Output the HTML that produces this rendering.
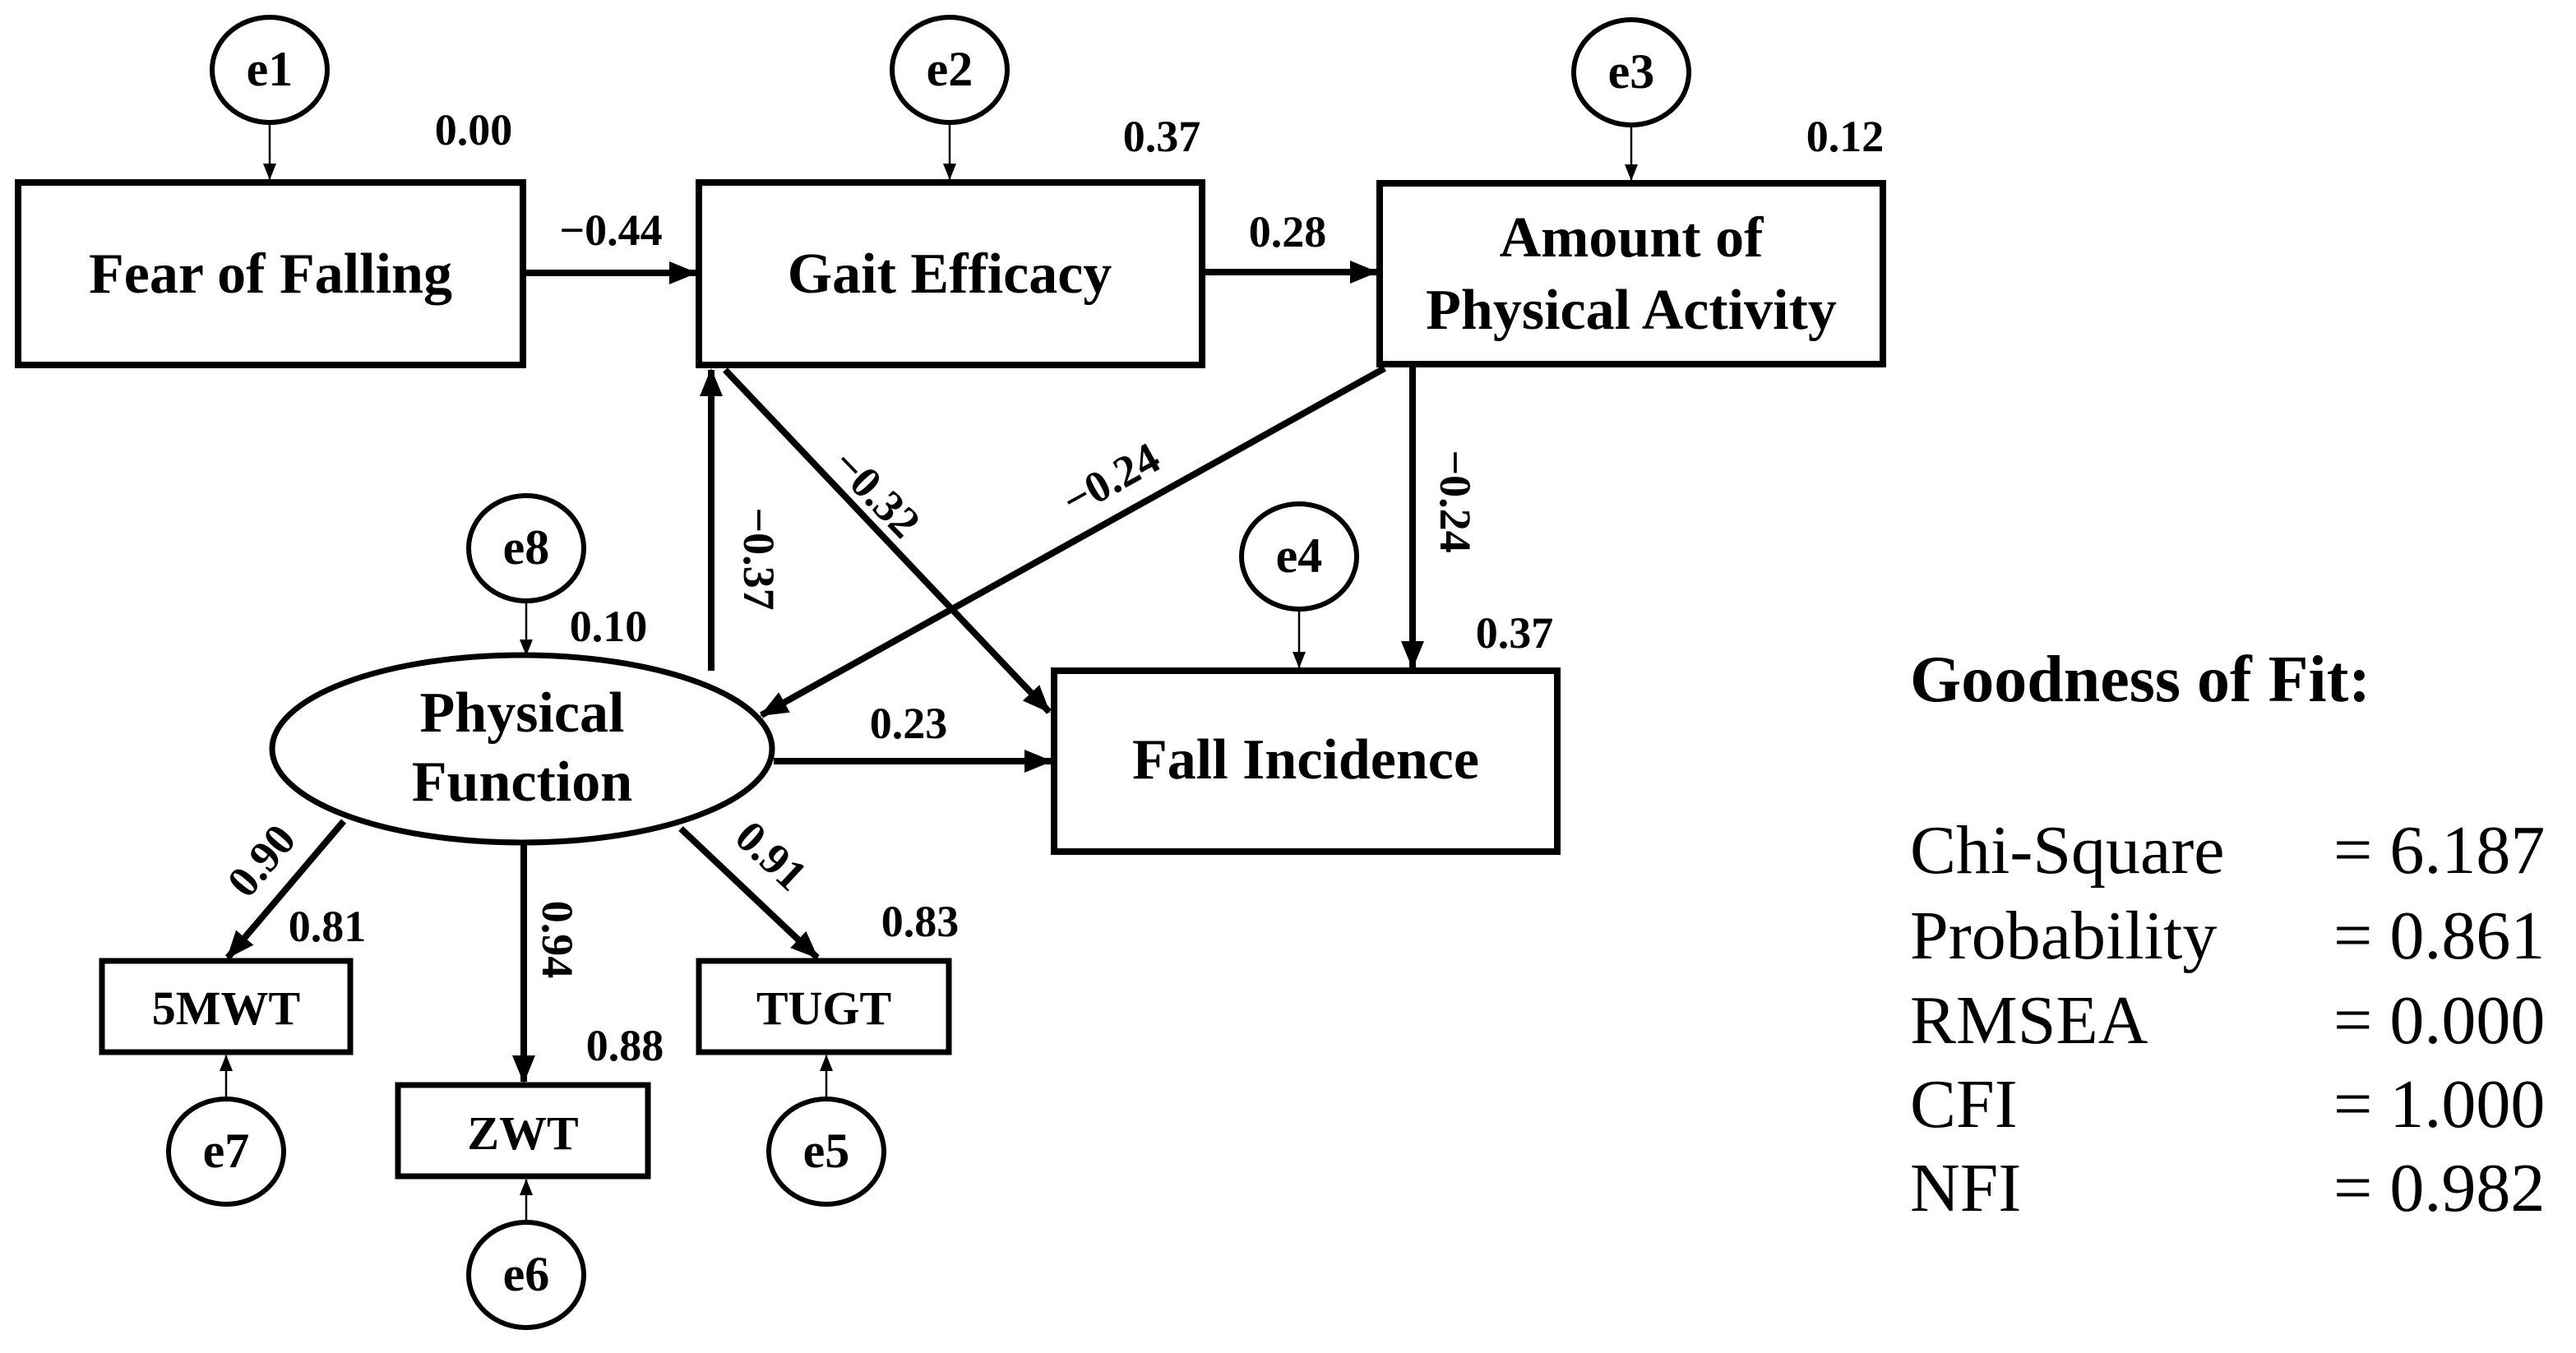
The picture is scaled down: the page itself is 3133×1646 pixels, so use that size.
<!DOCTYPE html>
<html><head><meta charset="utf-8"><style>
html,body{margin:0;padding:0;background:#fff;}
svg{display:block;}
text{font-family:"Liberation Serif",serif;fill:#000;}
.n{font-size:54px;font-weight:bold;text-anchor:middle;}
.b{font-size:70px;font-weight:bold;text-anchor:middle;}
.e{font-size:60px;font-weight:bold;text-anchor:middle;}
.g{font-size:84px;}
</style></head><body>
<svg width="3133" height="1646" viewBox="0 0 3133 1646" xmlns="http://www.w3.org/2000/svg">
<defs>
<marker id="big" markerUnits="userSpaceOnUse" markerWidth="34" markerHeight="28" refX="32" refY="14" orient="auto"><path d="M0,0 L34,14 L0,28 Z" fill="#000"/></marker>
<marker id="sm" markerUnits="userSpaceOnUse" markerWidth="20" markerHeight="16" refX="19" refY="8" orient="auto"><path d="M0,0 L20,8 L0,16 Z" fill="#000"/></marker>
</defs>
<g fill="none" stroke="#000">
<!-- boxes -->
<rect x="22" y="222" width="614" height="222" stroke-width="8"/>
<rect x="850" y="222" width="612" height="222" stroke-width="8"/>
<rect x="1678" y="223" width="612" height="220" stroke-width="8"/>
<rect x="1282" y="816" width="612" height="220" stroke-width="8"/>
<rect x="124" y="1169" width="302" height="111" stroke-width="7"/>
<rect x="484" y="1320" width="304" height="111" stroke-width="7"/>
<rect x="850" y="1169" width="304" height="111" stroke-width="7"/>
<ellipse cx="635" cy="911" rx="304" ry="114" stroke-width="7"/>
<!-- error circles -->
<ellipse cx="328" cy="85" rx="70" ry="64" stroke-width="6"/>
<ellipse cx="1155" cy="85" rx="70" ry="64" stroke-width="6"/>
<ellipse cx="1984" cy="88" rx="70" ry="64" stroke-width="6"/>
<ellipse cx="640" cy="667" rx="70" ry="64" stroke-width="6"/>
<ellipse cx="1580" cy="677" rx="70" ry="64" stroke-width="6"/>
<ellipse cx="275" cy="1401" rx="70" ry="64" stroke-width="6"/>
<ellipse cx="1005" cy="1401" rx="70" ry="64" stroke-width="6"/>
<ellipse cx="640" cy="1551" rx="70" ry="64" stroke-width="6"/>
<!-- thin arrows -->
<g stroke-width="2.5" marker-end="url(#sm)">
<line x1="328" y1="149" x2="328" y2="218"/>
<line x1="1155" y1="149" x2="1155" y2="218"/>
<line x1="1984" y1="152" x2="1984" y2="219"/>
<line x1="640" y1="731" x2="640" y2="797"/>
<line x1="1580" y1="741" x2="1580" y2="812"/>
<line x1="275" y1="1337" x2="275" y2="1284"/>
<line x1="1005" y1="1337" x2="1005" y2="1284"/>
<line x1="640" y1="1487" x2="640" y2="1435"/>
</g>
<!-- thick arrows -->
<g stroke-width="8" marker-end="url(#big)">
<line x1="636" y1="332" x2="846" y2="332"/>
<line x1="1462" y1="331" x2="1674" y2="331"/>
<line x1="865" y1="816" x2="865" y2="450"/>
<line x1="882" y1="450" x2="1276" y2="866"/>
<line x1="1684" y1="448" x2="926" y2="870"/>
<line x1="1718" y1="443" x2="1718" y2="812"/>
<line x1="941" y1="926" x2="1278" y2="926"/>
<line x1="418" y1="999" x2="277" y2="1165"/>
<line x1="637" y1="1026" x2="637" y2="1316"/>
<line x1="828" y1="1008" x2="994" y2="1165"/>
</g>
</g>
<!-- node labels -->
<text class="b" x="329" y="356">Fear of Falling</text>
<text class="b" x="1155" y="356">Gait Efficacy</text>
<text class="b" x="1984" y="312">Amount of</text>
<text class="b" x="1984" y="400">Physical Activity</text>
<text class="b" x="1588" y="947">Fall Incidence</text>
<text class="b" x="635" y="890">Physical</text>
<text class="b" x="635" y="974">Function</text>
<text class="b" x="275" y="1246" style="font-size:58px">5MWT</text>
<text class="b" x="636" y="1398" style="font-size:58px">ZWT</text>
<text class="b" x="1002" y="1246" style="font-size:58px">TUGT</text>
<text class="e" x="328" y="104">e1</text>
<text class="e" x="1155" y="104">e2</text>
<text class="e" x="1984" y="107">e3</text>
<text class="e" x="640" y="686">e8</text>
<text class="e" x="1580" y="696">e4</text>
<text class="e" x="275" y="1420">e7</text>
<text class="e" x="1005" y="1420">e5</text>
<text class="e" x="640" y="1570">e6</text>
<!-- numbers -->
<text class="n" x="576" y="176">0.00</text>
<text class="n" x="1413" y="184">0.37</text>
<text class="n" x="2244" y="184">0.12</text>
<text class="n" x="743" y="298">−0.44</text>
<text class="n" x="1566" y="300">0.28</text>
<text class="n" x="740" y="780">0.10</text>
<text class="n" x="1842" y="788">0.37</text>
<text class="n" x="1105" y="898">0.23</text>
<text class="n" x="398" y="1145">0.81</text>
<text class="n" x="760" y="1290">0.88</text>
<text class="n" x="1119" y="1139">0.83</text>
<text class="n" transform="translate(923,680) rotate(90)" y="18">−0.37</text>
<text class="n" transform="translate(1770,610) rotate(90)" y="18">−0.24</text>
<text class="n" transform="translate(678,1143) rotate(90)" y="18">0.94</text>
<text class="n" transform="translate(1066,600) rotate(46)" y="18">−0.32</text>
<text class="n" transform="translate(1351,583) rotate(-29)" y="18">−0.24</text>
<text class="n" transform="translate(318,1047) rotate(-50)" y="18">0.90</text>
<text class="n" transform="translate(938,1041) rotate(43)" y="18">0.91</text>
<!-- goodness of fit -->
<text x="2323" y="853" style="font-size:80px;font-weight:bold">Goodness of Fit:</text>
<text class="g" x="2323" y="1062">Chi-Square</text>
<text class="g" x="2323" y="1166">Probability</text>
<text class="g" x="2323" y="1269">RMSEA</text>
<text class="g" x="2323" y="1371">CFI</text>
<text class="g" x="2323" y="1473">NFI</text>
<text class="g" x="2838" y="1062">= 6.187</text>
<text class="g" x="2838" y="1166">= 0.861</text>
<text class="g" x="2838" y="1269">= 0.000</text>
<text class="g" x="2838" y="1371">= 1.000</text>
<text class="g" x="2838" y="1473">= 0.982</text>
</svg>
</body></html>
